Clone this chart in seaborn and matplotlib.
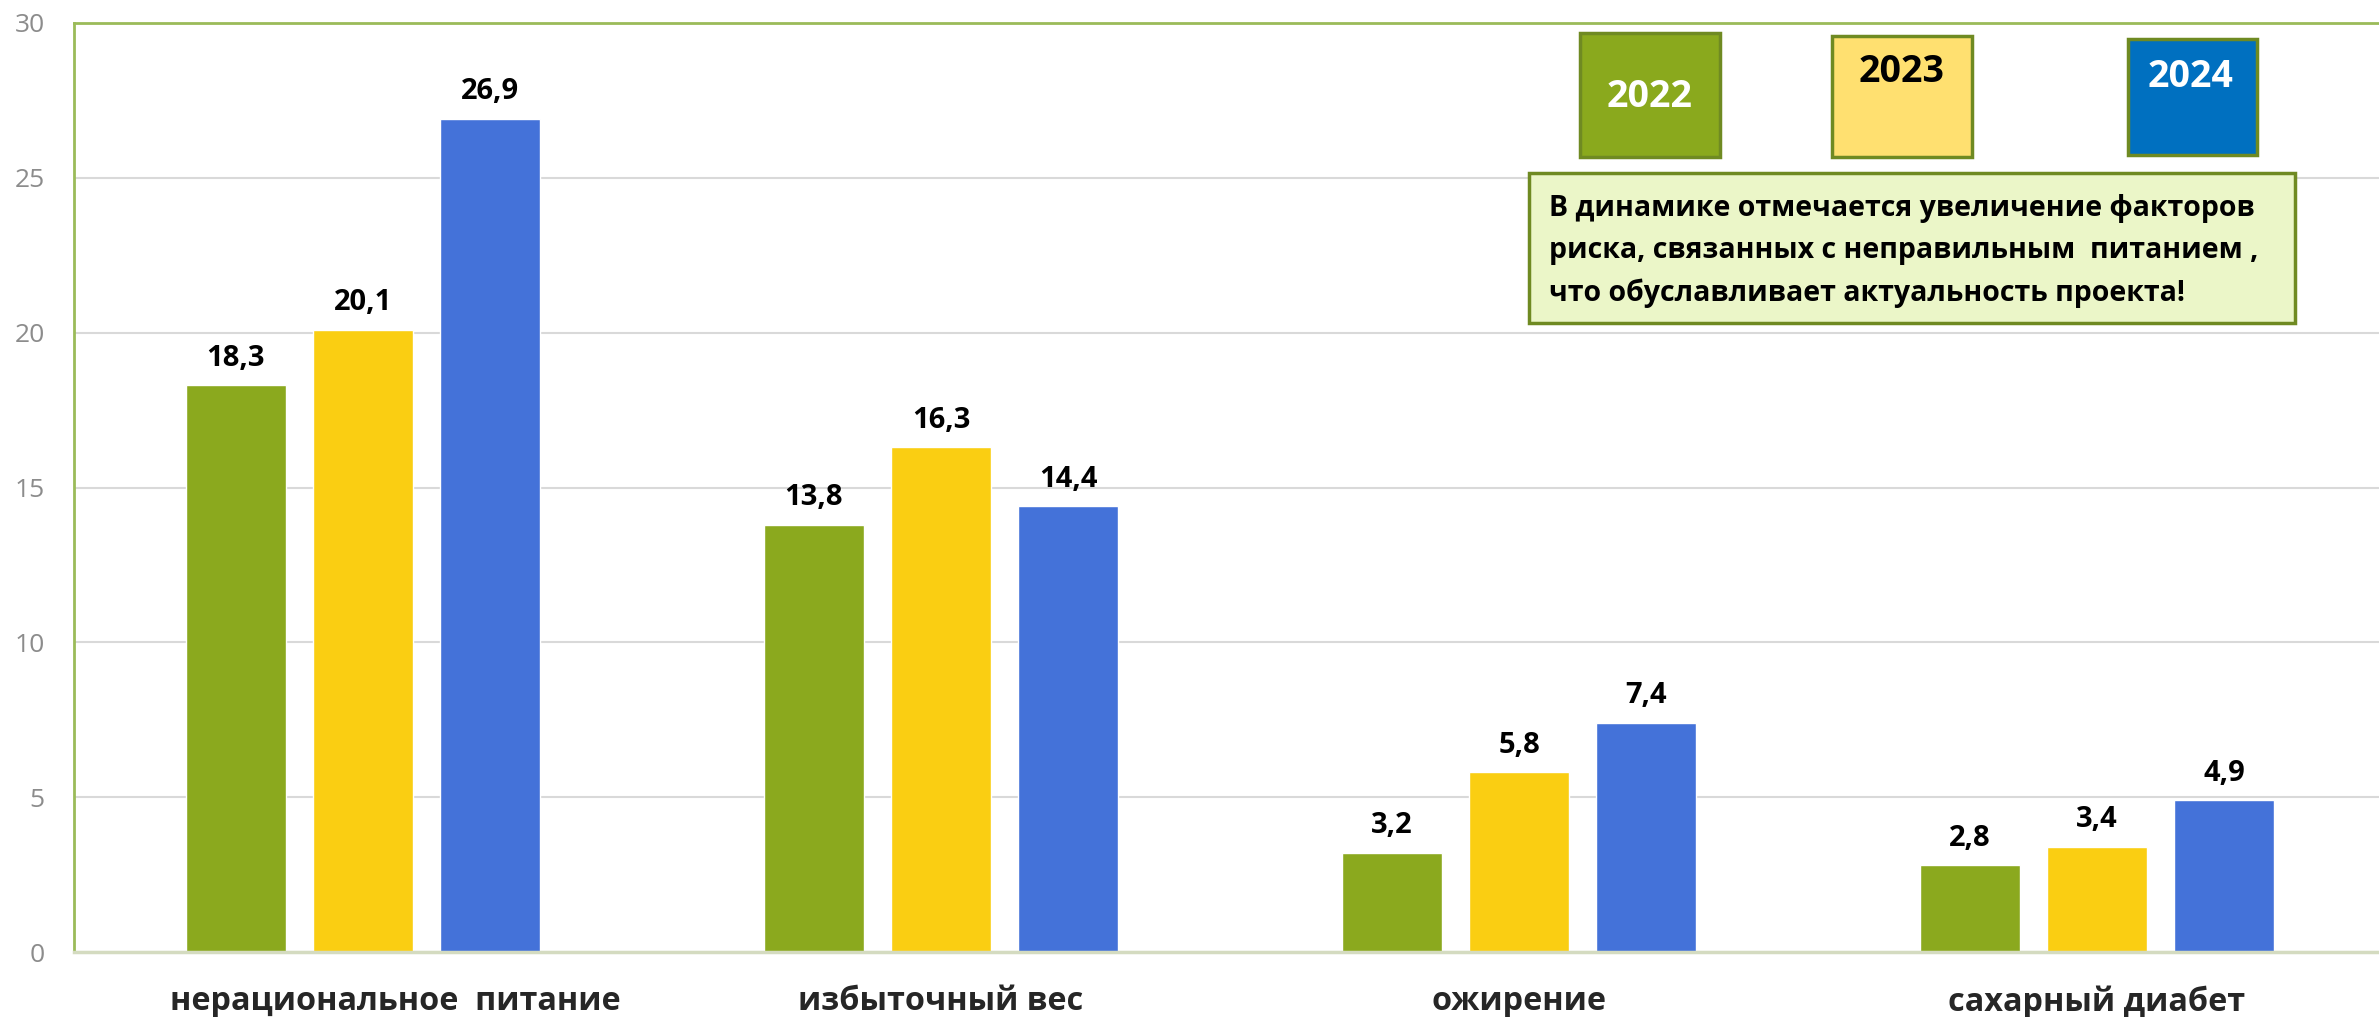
import pandas as pd
import matplotlib.pyplot as plt
import matplotlib.patches as patches
import matplotlib.transforms as mtransforms
import seaborn as sns

# data
categories = ['нерациональное  питание', 'избыточный вес', 'ожирение', 'сахарный диабет']
years = ['2022', '2023', '2024']
values_2022 = [18.3, 13.8, 3.2, 2.8]
values_2023 = [20.1, 16.3, 5.8, 3.4]
values_2024 = [26.9, 14.4, 7.4, 4.9]
y_ticks = [0, 5, 10, 15, 20, 25, 30]

bar_colors = ['#8BA91E', '#FACE12', '#4472D9']
box_colors = ['#8AA91D', '#FFE070', '#0070C0']
box_text_colors = ['white', 'black', 'white']
note = ('В динамике отмечается увеличение факторов\n'
        'риска, связанных с неправильным  питанием ,\n'
        'что обуславливает актуальность проекта!')

df = pd.DataFrame({
    'category': categories * 3,
    'year': [y for y in years for _ in categories],
    'value': values_2022 + values_2023 + values_2024,
})

sns.set_style('white')
plt.rcParams['font.family'] = ['Open Sans', 'DejaVu Sans']

W, H = 2379, 1017
fig = plt.figure(figsize=(W / 100, H / 100), dpi=100)
ax = fig.add_axes([74 / W, 1 - 952 / H, 2312 / W, (952 - 23) / H])

sns.barplot(data=df, x='category', y='value', hue='year', palette=bar_colors,
            saturation=1, width=0.661, gap=0.215, legend=False, ax=ax)

for cont in ax.containers:
    labels = [f'{v:.1f}'.replace('.', ',') for v in cont.datavalues]
    ax.bar_label(cont, labels=labels, padding=9, fontsize=21, fontweight='bold', color='black')

ax.set_xlim(-0.5, 3.5)
ax.set_ylim(0, 30)
ax.set_yticks(y_ticks)
ax.set_yticklabels([str(t) for t in y_ticks])
ax.set_xlabel('')
ax.set_ylabel('')
ax.yaxis.grid(True, color='#D9D9D9', linewidth=1.5)
ax.set_axisbelow(True)
ax.tick_params(axis='y', length=0, pad=21, labelsize=19, labelcolor='#8C8C8C')
ax.tick_params(axis='x', length=0, pad=24, labelsize=23.3)
xlabels = ax.get_xticklabels()
for lab in xlabels:
    lab.set_fontweight('bold')
# the first category label sits a little right of its group in the original
xlabels[0].set_transform(xlabels[0].get_transform()
                         + mtransforms.ScaledTranslation(0.32, 0, fig.dpi_scale_trans))

for side in ['left', 'top', 'right']:
    ax.spines[side].set_color('#9BBB59')
    ax.spines[side].set_linewidth(2)
ax.spines['bottom'].set_color('#D4DBC0')
ax.spines['bottom'].set_linewidth(2.5)


def fx(x):
    return x / W


def fy(y):
    return 1 - y / H


# year "legend" boxes
boxes = [(1580, 33, 1720, 157, 1650, 97),
         (1832, 36, 1972, 157, 1902, 72),
         (2128, 39, 2257, 155, 2191, 77)]
for (x0, y0, x1, y1, tx, ty), year, fc, tc in zip(boxes, years, box_colors, box_text_colors):
    fig.add_artist(patches.Rectangle((fx(x0), fy(y1)), fx(x1) - fx(x0), fy(y0) - fy(y1),
                                     transform=fig.transFigure, facecolor=fc,
                                     edgecolor='#6F8A22', linewidth=2.5))
    fig.text(fx(tx), fy(ty), year, ha='center', va='center', fontsize=27,
             fontweight='bold', color=tc)

# note box
fig.add_artist(patches.Rectangle((fx(1529), fy(323)), fx(2295) - fx(1529), fy(173) - fy(323),
                                 transform=fig.transFigure, facecolor='#EBF6C8',
                                 edgecolor='#6F8A22', linewidth=2.5))
fig.text(fx(1549), fy(251), note, ha='left', va='center', fontsize=20.5,
         fontweight='bold', color='black', linespacing=1.58)

fig.savefig('out.png', dpi=100)
